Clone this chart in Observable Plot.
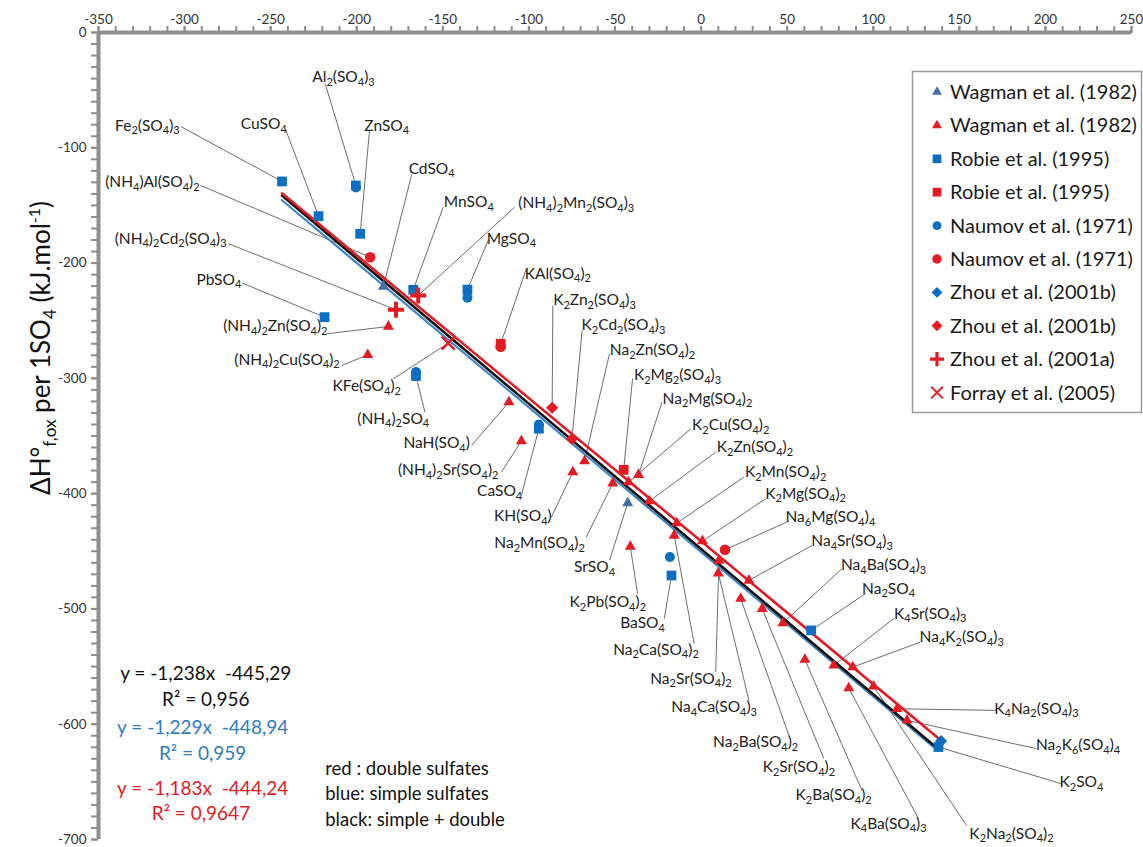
<!DOCTYPE html>
<html>
<head>
<meta charset="utf-8">
<script src="https://cdn.jsdelivr.net/npm/d3@7"></script>
<script src="https://cdn.jsdelivr.net/npm/@observablehq/plot@0.6"></script>
<style>
  html, body { margin: 0; padding: 0; background: #fff; }
  #wrap { position: relative; width: 1143px; height: 847px; overflow: hidden; font-family: Lato, "Open Sans", sans-serif; }
</style>
</head>
<body>
<div id="wrap"></div>
<script>
// ---------------- DATA ----------------
const xTicks = d3.range(-350, 251, 50);
const yTicks = d3.range(-700, 1, 100);

// Wagman et al. (1982) - simple sulfates (blue triangles)
const wagmanBlueNames = ["CdSO4", "SrSO4"];
const wagmanBlueX = [-184.5, -42.6];
const wagmanBlueY = [-220.3, -408.2];

// Wagman et al. (1982) - double sulfates (red triangles)
const wagmanRedNames = ["(NH4)2Zn(SO4)2","(NH4)2Cu(SO4)2","NaH(SO4)","(NH4)2Sr(SO4)2","KH(SO4)","Na2Zn(SO4)2","Na2Mn(SO4)2","Na2Mg(SO4)2","K2Cu(SO4)2","K2Zn(SO4)2","K2Pb(SO4)2","K2Mn(SO4)2","Na2Ca(SO4)2","K2Mg(SO4)2","Na2Sr(SO4)2","Na4Ca(SO4)3","Na4Sr(SO4)3","Na2Ba(SO4)2","K2Sr(SO4)2","Na4Ba(SO4)3","K2Ba(SO4)2","K4Sr(SO4)3","Na4K2(SO4)3","K4Ba(SO4)3","K2Na2(SO4)2","K4Na2(SO4)3","Na2K6(SO4)4"];
const wagmanRedX = [-181.6,-193.6,-111.6,-104.4,-74.5,-67.7,-51.3,-36.3,-42.1,-30,-41.1,-14.1,-15.6,0.8,10.4,10,27.8,23,35.5,47.5,60.3,77.1,88.1,85.8,100.2,113.8,119.6];
const wagmanRedY = [-255,-279.6,-320.6,-354.4,-381.3,-371.8,-391,-383.6,-390,-406.5,-446,-425.6,-436.3,-441.2,-458,-469,-475.3,-491,-499.8,-512.3,-544,-549,-550.5,-568.7,-567.2,-586.6,-596.7];

// Robie et al. (1995)
const robieBlueNames = ["Fe2(SO4)3","Al2(SO4)3","CuSO4","ZnSO4","MnSO4","MgSO4","PbSO4","(NH4)2SO4","CaSO4","BaSO4","Na2SO4","K2SO4"];
const robieBlueX = [-243.4,-200.5,-222.2,-198,-167.2,-135.7,-218.7,-165.6,-94.2,-17.2,63.9,137.9];
const robieBlueY = [-129.2,-132.7,-159.3,-174.6,-223.2,-223,-246.9,-298,-343.7,-471,-518.6,-619.8];
const robieRedNames = ["KAl(SO4)2","K2Mg2(SO4)3"];
const robieRedX = [-116.4,-44.95];
const robieRedY = [-270,-379.3];

// Naumov et al. (1971)
const naumovBlueNames = ["Al2(SO4)3","MgSO4","(NH4)2SO4","CaSO4","BaSO4"];
const naumovBlueX = [-200.5,-135.7,-165.6,-94.2,-18.1];
const naumovBlueY = [-134.5,-230,-294.5,-340,-455];
const naumovRedNames = ["(NH4)Al(SO4)2","KAl(SO4)2","Na6Mg(SO4)4"];
const naumovRedX = [-192.2,-116.4,13.9];
const naumovRedY = [-194.9,-272.5,-448.7];

// Zhou et al. (2001b)
const zhouBBlueNames = ["K2SO4"];
const zhouBBlueX = [139.4];
const zhouBBlueY = [-614.6];
const zhouBRedNames = ["K2Zn2(SO4)3","K2Cd2(SO4)3"];
const zhouBRedX = [-86.5,-75];
const zhouBRedY = [-325.5,-352.5];

// Zhou et al. (2001a)
const zhouANames = ["(NH4)2Cd2(SO4)3","(NH4)2Mn2(SO4)3"];
const zhouAX = [-177.2,-164.3];
const zhouAY = [-240.5,-228.1];

// Forray et al. (2005)
const forrayNames = ["KFe(SO4)2"];
const forrayX = [-146.9];
const forrayY = [-269.5];

// Fitted lines (end points)
const fitX = [-243.4, 137.5];
const fitBlackY = [-141.4, -621.3];
const fitBlueY = [-145.5, -623];
const fitRedY = [-139.5, -611.7];

// Compound labels: text centre and leader-line start (data units)
const labelNames = ["Al2(SO4)3","Fe2(SO4)3","CuSO4","ZnSO4","CdSO4","(NH4)Al(SO4)2","MnSO4","(NH4)2Mn2(SO4)3","MgSO4","(NH4)2Cd2(SO4)3","PbSO4","KAl(SO4)2","(NH4)2Zn(SO4)2","K2Zn2(SO4)3","(NH4)2Cu(SO4)2","K2Cd2(SO4)3","Na2Zn(SO4)2","KFe(SO4)2","K2Mg2(SO4)3","Na2Mg(SO4)2","(NH4)2SO4","K2Cu(SO4)2","NaH(SO4)","K2Zn(SO4)2","(NH4)2Sr(SO4)2","K2Mn(SO4)2","CaSO4","K2Mg(SO4)2","KH(SO4)","Na6Mg(SO4)4","Na2Mn(SO4)2","Na4Sr(SO4)3","Na4Ba(SO4)3","SrSO4","Na2SO4","K2Pb(SO4)2","K4Sr(SO4)3","BaSO4","Na4K2(SO4)3","Na2Ca(SO4)2","Na2Sr(SO4)2","Na4Ca(SO4)3","Na2Ba(SO4)2","K2Sr(SO4)2","K2Ba(SO4)2","K4Na2(SO4)3","Na2K6(SO4)4","K2SO4","K4Ba(SO4)3","K2Na2(SO4)2"];
const labelX = [-207.7,-321.6,-254,-182.6,-156.5,-318.7,-134.9,-72.5,-110.2,-308.1,-280.1,-83.2,-247.3,-61.9,-240.5,-45.1,-28.2,-194.2,-13.7,3.7,-178.8,17.2,-153.6,31.3,-146.9,49.1,-117,60.7,-103.5,75.1,-93.8,87.7,106,-61.9,108.9,-54.2,133.1,-34,151.4,-26.2,-5.9,7.6,31.7,56.8,77,194.8,219,220.9,108.9,180.3];
const labelY = [-38.8,-80.7,-79.8,-80.7,-118.2,-129.8,-147.2,-148,-178.9,-178.9,-214.5,-209.3,-255,-232.4,-283.9,-254.1,-275.8,-307,-297.5,-317.7,-335,-340.9,-356.2,-359.7,-379.9,-381.4,-397.8,-400.1,-419.8,-420.4,-442.9,-441.2,-462.3,-463.7,-482.5,-494.1,-504.2,-512.3,-524.5,-535.4,-560.5,-585.2,-615.5,-637.2,-661.8,-586.6,-618.4,-650.2,-686.3,-695];
const leaderX = [-218.3,-302.3,-241.5,-192.6,-168.1,-290.7,-149.8,-108.3,-123.7,-274.3,-266.5,-101.5,-217.3,-86.1,-208.6,-69.1,-53.2,-178.7,-39.8,-22.7,-160.4,-5.9,-133.3,8.5,-116,24.9,-104.4,37.5,-87,51,-66.7,64.5,81.9,-53.2,95.4,-36.9,111.8,-21.4,127.3,-4,8.5,27.8,51,71.3,93.4,171.6,194.8,209.3,126.3,154.3];
const leaderY = [-44.5,-81.5,-83.5,-85,-123.2,-132.7,-151.5,-151.5,-180.4,-183.3,-217.4,-204.9,-261.3,-236.8,-288.8,-258.5,-278.7,-300.3,-300.3,-320.6,-329.3,-343.7,-358.2,-364,-381.4,-385.7,-401.6,-404.4,-420.4,-423.9,-437.7,-444.9,-465.1,-457.9,-486.8,-486.8,-508.5,-508.5,-528.8,-530.2,-554.8,-579.4,-609.7,-629.9,-657.4,-588,-621.2,-651.6,-682,-688];

// Regression equations and notes
const eqText = ["y = -1,238x\u00a0 -445,29", "R² = 0,956", "y = -1,229x\u00a0 -448,94", "R² = 0,959", "y = -1,183x\u00a0 -444,24", "R² = 0,9647"];
const eqGroup = ["black", "black", "blue", "blue", "red", "red"];
const eqX = [-287.7, -287.7, -289.5, -289.5, -289.5, -290.5];
const eqY = [-556.2, -578.8, -603.1, -625.6, -656, -677.7];
const noteText = ["red : double sulfates", "blue: simple sulfates", "black: simple + double"];
const noteX = [-218.3, -218.3, -218.3];
const noteY = [-638.6, -660.9, -683.4];

const legendLabels = ["Wagman et al. (1982)","Wagman et al. (1982)","Robie et al. (1995)","Robie et al. (1995)","Naumov et al. (1971)","Naumov et al. (1971)","Zhou et al. (2001b)","Zhou et al. (2001b)","Zhou et al. (2001a)","Forray et al. (2005)"];

// ---------------- STYLES ----------------
const RED = "#e41b23", BLUE = "#0a6fc0", WBLUE = "#4470a6", LBLUE = "#3d86c8", TBLUE = "#2f7cc3";
const AXIS = "#8e8e8e", LEADER = "#5c5c5c", FONT = "Lato, 'Open Sans', sans-serif";

const plusSym = { draw(ctx, size) { const r = Math.sqrt(size / Math.PI); ctx.moveTo(-r, 0); ctx.lineTo(r, 0); ctx.moveTo(0, -r); ctx.lineTo(0, r); } };
const timesSym = { draw(ctx, size) { const r = Math.sqrt(size / Math.PI); ctx.moveTo(-r, -r); ctx.lineTo(r, r); ctx.moveTo(-r, r); ctx.lineTo(r, -r); } };

const zip = (names, xs, ys) => names.map((n, i) => ({ name: n, x: xs[i], y: ys[i] }));
const series = [
  { data: zip(wagmanBlueNames, wagmanBlueX, wagmanBlueY), sym: d3.symbolTriangle, r: 4.1, color: WBLUE, fill: true },
  { data: zip(wagmanRedNames, wagmanRedX, wagmanRedY), sym: d3.symbolTriangle, r: 4.1, color: RED, fill: true },
  { data: zip(robieBlueNames, robieBlueX, robieBlueY), sym: d3.symbolSquare, r: 5.5, color: BLUE, fill: true },
  { data: zip(robieRedNames, robieRedX, robieRedY), sym: d3.symbolSquare, r: 5.5, color: RED, fill: true },
  { data: zip(naumovBlueNames, naumovBlueX, naumovBlueY), sym: d3.symbolCircle, r: 5, color: BLUE, fill: true },
  { data: zip(naumovRedNames, naumovRedX, naumovRedY), sym: d3.symbolCircle, r: 5.3, color: RED, fill: true },
  { data: zip(zhouBBlueNames, zhouBBlueX, zhouBBlueY), sym: d3.symbolDiamond2, r: 5.5, color: BLUE, fill: true },
  { data: zip(zhouBRedNames, zhouBRedX, zhouBRedY), sym: d3.symbolDiamond2, r: 5.5, color: RED, fill: true },
  { data: zip(zhouANames, zhouAX, zhouAY), sym: plusSym, r: 8, color: RED, fill: false, sw: 4 },
  { data: zip(forrayNames, forrayX, forrayY), sym: timesSym, r: 6.5, color: RED, fill: false, sw: 2.4 }
];

// leader targets: first series containing the compound
const pointOf = new Map();
for (const s of series) for (const d of s.data) if (!pointOf.has(d.name)) pointOf.set(d.name, d);
const labels = labelNames.map((n, i) => {
  const p = pointOf.get(n);
  return { name: n, x: labelX[i], y: labelY[i], sx: leaderX[i], sy: leaderY[i], tx: p.x, ty: p.y };
});

const line = (ys) => fitX.map((x, i) => ({ x, y: ys[i] }));
const eqs = eqText.map((t, i) => ({ t, g: eqGroup[i], x: eqX[i], y: eqY[i] }));
const notes = noteText.map((t, i) => ({ t, x: noteX[i], y: noteY[i] }));
const eqColor = { black: "#111", blue: TBLUE, red: RED };

const dotMarks = series.map(s => Plot.dot(s.data, {
  x: "x", y: "y", symbol: s.sym, r: s.r,
  fill: s.fill ? s.color : "none",
  stroke: s.fill ? "none" : s.color,
  strokeWidth: s.sw || 1
}));

const plot = Plot.plot({
  width: 1143, height: 847,
  marginLeft: 98, marginRight: 12, marginTop: 32, marginBottom: 8,
  x: { domain: [-350, 250], label: null },
  y: { domain: [-700, 0], label: null },
  style: { fontFamily: FONT, background: "white", overflow: "visible" },
  marks: [
    // leader lines
    Plot.link(labels, { x1: "sx", y1: "sy", x2: "tx", y2: "ty", stroke: LEADER, strokeWidth: 0.9 }),
    // fitted lines
    Plot.line(line(fitBlueY), { x: "x", y: "y", stroke: LBLUE, strokeWidth: 2.2 }),
    Plot.line(line(fitBlackY), { x: "x", y: "y", stroke: "#111", strokeWidth: 2.6 }),
    Plot.line(line(fitRedY), { x: "x", y: "y", stroke: RED, strokeWidth: 2.6 }),
    ...dotMarks,
    // axes
    Plot.axisX({ anchor: "top", ticks: d3.range(-350, 251, 10), tickSize: 7, tickFormat: () => "", stroke: AXIS, strokeWidth: 2, label: null }),
    Plot.axisX({ anchor: "top", ticks: xTicks, tickSize: 7, tickPadding: 2, tickFormat: d => String(d), stroke: AXIS, strokeWidth: 2, fill: "#333", fontSize: 13.5, label: null }),
    Plot.axisY({ anchor: "left", ticks: d3.range(-700, 1, 10), tickSize: 7, tickFormat: () => "", stroke: AXIS, strokeWidth: 2, label: null }),
    Plot.axisY({ anchor: "left", ticks: yTicks, tickSize: 7, tickPadding: 5, tickFormat: d => String(d), stroke: AXIS, strokeWidth: 2, fill: "#333", fontSize: 13.5, label: null }),
    Plot.ruleY([0], { stroke: AXIS, strokeWidth: 4 }),
    Plot.ruleX([-350], { stroke: AXIS, strokeWidth: 4 }),
    // compound labels
    Plot.text(labels, { x: "x", y: "y", text: "name", fontSize: 15.5, fill: "#222" }),
    // equations & notes
    Plot.text(eqs, { x: "x", y: "y", text: "t", fill: d => eqColor[d.g], fontSize: 19 }),
    Plot.text(notes, { x: "x", y: "y", text: "t", fill: "#111", fontSize: 18.5, textAnchor: "start" })
  ]
});

// subscripts in formulas
const nameSet = new Set(labelNames);
d3.select(plot).selectAll("text").each(function () {
  const t = this.textContent;
  if (!nameSet.has(t)) return;
  const sel = d3.select(this);
  sel.selectAll("*").remove();
  sel.text(null);
  let shifted = false;
  for (const part of t.match(/\d+|\D+/g)) {
    const isNum = /\d/.test(part);
    const ts = sel.append("tspan").text(part);
    if (isNum) { ts.attr("font-size", 11).attr("dy", shifted ? 0 : 3.5); shifted = true; }
    else { if (shifted) ts.attr("dy", -3.5); shifted = false; }
  }
});

// y-axis title
const title = d3.select(plot).append("text")
  .attr("transform", "translate(50,348) rotate(-90)")
  .attr("text-anchor", "middle")
  .attr("font-family", FONT).attr("font-size", 26).attr("fill", "#111");
title.append("tspan").text("ΔH°");
title.append("tspan").attr("font-size", 17).attr("dy", 6).text("f,ox");
title.append("tspan").attr("dy", -6).text(" per 1SO");
title.append("tspan").attr("font-size", 17).attr("dy", 6).text("4");
title.append("tspan").attr("dy", -6).text(" (kJ.mol");
title.append("tspan").attr("font-size", 16).attr("dy", -10).text("-1");
title.append("tspan").attr("dy", 10).text(")");

const wrap = document.getElementById("wrap");
wrap.appendChild(plot);

// legend box
const leg = d3.select(wrap).append("svg")
  .attr("width", 232).attr("height", 346)
  .style("position", "absolute").style("left", "911px").style("top", "70px");
leg.append("rect").attr("x", 1.5).attr("y", 1.5).attr("width", 229).attr("height", 341)
  .attr("fill", "white").attr("stroke", "#9a9a9a").attr("stroke-width", 1.5);
series.forEach((s, i) => {
  const cy = 22 + i * 33.4;
  const size = Math.PI * s.r * s.r * 0.8;
  leg.append("path").attr("d", d3.symbol(s.sym, size)())
    .attr("transform", `translate(26,${cy})`)
    .attr("fill", s.fill ? s.color : "none")
    .attr("stroke", s.fill ? "none" : s.color)
    .attr("stroke-width", s.fill ? 0 : (s.sw || 1) * 0.8);
  leg.append("text").attr("x", 39).attr("y", cy).attr("dy", "0.35em")
    .attr("font-family", FONT).attr("font-size", 20).attr("fill", "#1a1a1a")
    .text(legendLabels[i]);
});
</script>
</body>
</html>
